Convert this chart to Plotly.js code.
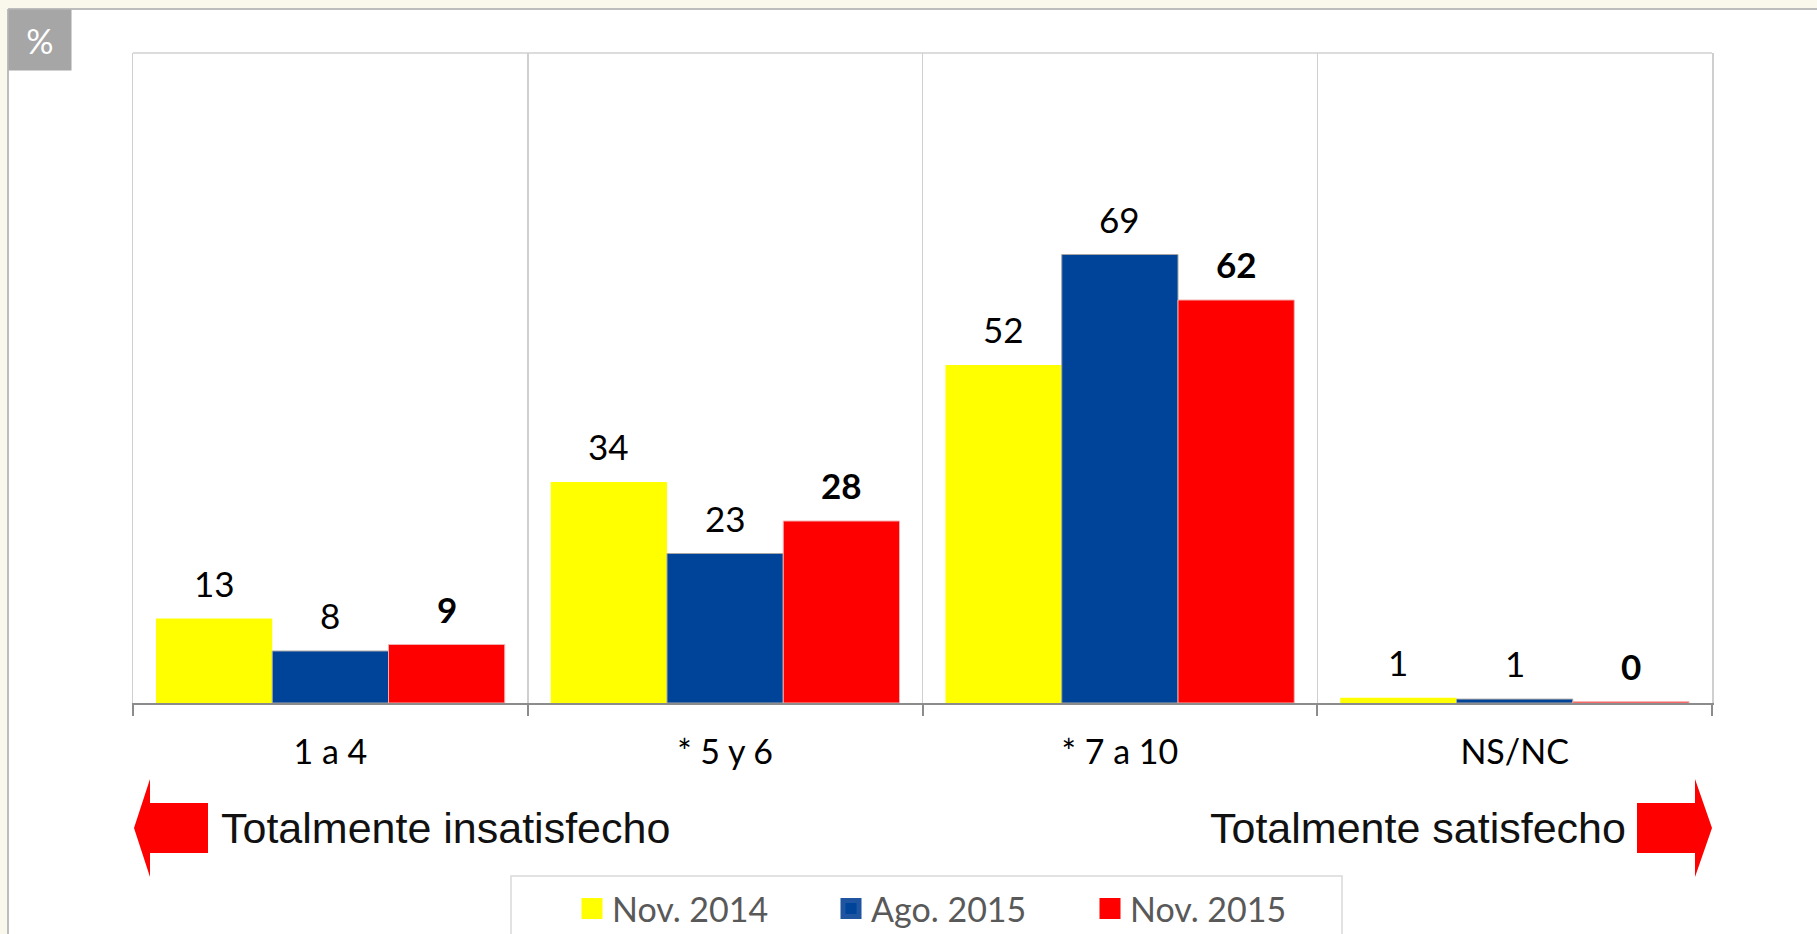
<!DOCTYPE html>
<html>
<head>
<meta charset="utf-8">
<script src="https://cdn.plot.ly/plotly-3.0.1.min.js"></script>
<style>
  html, body { margin: 0; padding: 0; background: #FAF8EC; }
  #chart { width: 1817px; height: 934px; }
</style>
</head>
<body>
<div id="chart"></div>
<script>
// ---- Data ----
var categories = ["1 a 4", "* 5 y 6", "* 7 a 10", "NS/NC"];
var seriesNames = ["Nov. 2014", "Ago. 2015", "Nov. 2015"];
var nov2014 = [13, 34, 52, 0.8];
var ago2015 = [8, 23, 69, 0.6];
var nov2015 = [9, 28, 62, 0.2];
var leftCaption = "Totalmente insatisfecho";
var rightCaption = "Totalmente satisfecho";
var unitLabel = "%";

// ---- Layout geometry ----
var W = 1817, H = 934;
var L = 133, R = 1712, T = 53, B = 703;
function X(px) { return (px - L) / (R - L); }
function Y(py) { return (B - py) / (B - T); }

var colors = ["#FFFF00", "#00449A", "#FF0000"];
var lineColors = ["rgba(0,0,0,0)", "#A6A6A6", "#F4B0B0"];
var allSeries = [nov2014, ago2015, nov2015];
var bargap = 0.1165;

var traces = allSeries.map(function (vals, i) {
  return {
    type: "bar",
    name: seriesNames[i],
    x: categories,
    y: vals,
    showlegend: false,
    marker: { color: colors[i], line: { color: lineColors[i], width: i === 0 ? 0 : 1 } },
    hoverinfo: "skip"
  };
});
// legend entries (larger square swatches)
seriesNames.forEach(function (name, i) {
  traces.push({
    type: "scatter", mode: "markers", name: name,
    x: [categories[0]], y: [null],
    marker: { symbol: "square", size: 16, color: colors[i],
              line: { color: i === 1 ? "#1F55A0" : colors[i], width: 5 } },
    hoverinfo: "skip", showlegend: true
  });
});

var annotations = [];
var slot = (1 - bargap) / 3;
allSeries.forEach(function (vals, i) {
  vals.forEach(function (v, j) {
    annotations.push({
      xref: "x", yref: "y",
      x: j + (i - 1) * slot, y: v,
      text: String(Math.round(v)),
      showarrow: false,
      yanchor: "middle", xanchor: "center",
      yshift: 36,
      font: { family: "Lato, 'Open Sans', sans-serif", size: 35, color: "#000000",
              weight: i === 2 ? "bold" : "normal" }
    });
  });
});

// % box
annotations.push({
  xref: "paper", yref: "paper",
  x: X(8), y: Y(9), xanchor: "left", yanchor: "top",
  width: 60, height: 58, bgcolor: "#A6A6A6",
  text: unitLabel, showarrow: false,
  font: { family: "Lato, sans-serif", size: 34, color: "#FFFFFF" }
});
// captions
annotations.push({
  xref: "paper", yref: "paper",
  x: X(219), y: Y(828), xanchor: "left", yanchor: "middle",
  text: leftCaption, showarrow: false,
  font: { family: "'Liberation Sans', Arial, sans-serif", size: 43, color: "#111111" }
});
annotations.push({
  xref: "paper", yref: "paper",
  x: X(1628), y: Y(828), xanchor: "right", yanchor: "middle",
  text: rightCaption, showarrow: false,
  font: { family: "'Liberation Sans', Arial, sans-serif", size: 43, color: "#111111" }
});

function arrowPath(tip, headBase, bodyEnd) {
  var yc = 828, hTop = 779, hBot = 877, bTop = 803, bBot = 853;
  var pts = [[tip, yc], [headBase, hTop], [headBase, bTop], [bodyEnd, bTop],
             [bodyEnd, bBot], [headBase, bBot], [headBase, hBot]];
  return "M" + pts.map(function (p) { return X(p[0]) + "," + Y(p[1]); }).join(" L") + " Z";
}

var shapes = [
  // white card
  { type: "rect", xref: "paper", yref: "paper", x0: X(8), x1: X(W + 5), y0: Y(9), y1: Y(H + 5),
    fillcolor: "#FFFFFF", line: { width: 0 }, layer: "below" },
  { type: "line", xref: "paper", yref: "paper", x0: X(8), x1: X(W), y0: Y(9), y1: Y(9),
    line: { color: "#BDBDBD", width: 2 } },
  { type: "line", xref: "paper", yref: "paper", x0: X(8), x1: X(8), y0: Y(9), y1: Y(H),
    line: { color: "#BDBDBD", width: 2 } },
  // top frame line of plot
  { type: "line", xref: "paper", yref: "paper", x0: 0, x1: 1, y0: 1, y1: 1,
    line: { color: "#D0D0D0", width: 1.5 } },
  // legend box
  { type: "rect", xref: "paper", yref: "paper", x0: X(511), x1: X(1342), y0: Y(876), y1: Y(H + 10),
    fillcolor: "#FFFFFF", line: { color: "#D9D9D9", width: 1.5 } },
  // arrows
  { type: "path", xref: "paper", yref: "paper", path: arrowPath(134, 150, 208),
    fillcolor: "#FF0000", line: { width: 0 } },
  { type: "path", xref: "paper", yref: "paper", path: arrowPath(1712, 1695, 1637),
    fillcolor: "#FF0000", line: { width: 0 } }
];

var layout = {
  width: W, height: H,
  margin: { l: L, r: W - R, t: T, b: H - B, pad: 0 },
  paper_bgcolor: "#FAF8EC",
  plot_bgcolor: "#FFFFFF",
  barmode: "group",
  bargap: bargap,
  bargroupgap: 0,
  showlegend: true,
  legend: {
    orientation: "h",
    xref: "container", yref: "container",
    x: 572 / W, xanchor: "left",
    y: (H - 880) / H, yanchor: "top",
    bgcolor: "rgba(0,0,0,0)",
    borderwidth: 0,
    font: { family: "Lato, 'Open Sans', sans-serif", size: 34, color: "#595959" },
    entrywidth: 214, entrywidthmode: "pixels",
    itemclick: false, itemdoubleclick: false,
    traceorder: "normal"
  },
  xaxis: {
    type: "category",
    tickson: "boundaries",
    ticks: "outside", ticklen: 11, tickwidth: 2, tickcolor: "#8C8C8C",
    showline: true, linecolor: "#8C8C8C", linewidth: 2,
    showgrid: true, gridcolor: "#CFCFCF", gridwidth: 1.5,
    tickfont: { family: "Lato, 'Open Sans', sans-serif", size: 34, color: "#000000" },
    ticklabelstandoff: 18,
    fixedrange: true
  },
  yaxis: {
    range: [0, 100],
    showticklabels: false, ticks: "",
    showgrid: false, zeroline: false,
    showline: true, mirror: true, linecolor: "#CFCFCF", linewidth: 1.5,
    fixedrange: true
  },
  annotations: annotations,
  shapes: shapes
};

Plotly.newPlot("chart", traces, layout, { displayModeBar: false, staticPlot: true });
</script>
</body>
</html>
